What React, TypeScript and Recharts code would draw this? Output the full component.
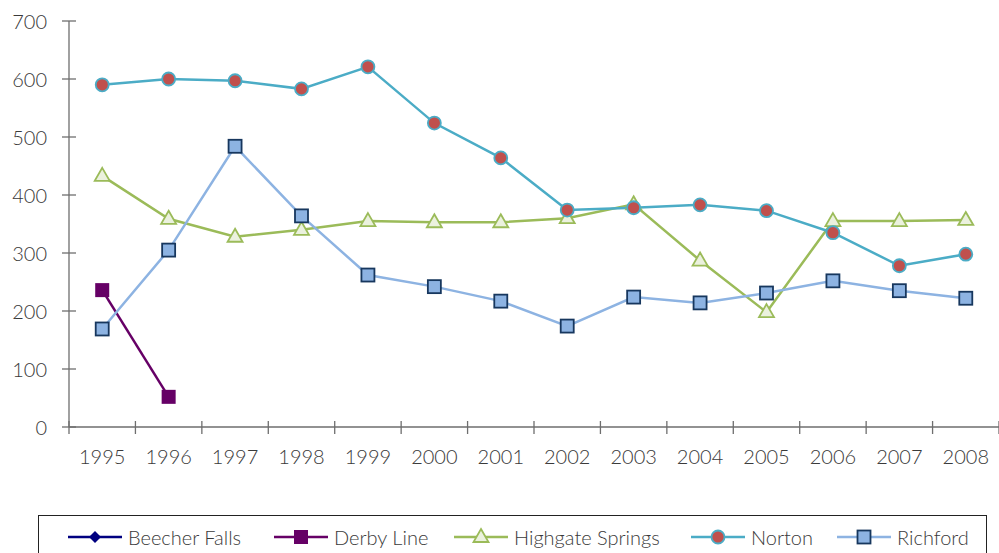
import { Line, LineChart, XAxis, YAxis } from 'recharts';

const years = ['1995', '1996', '1997', '1998', '1999', '2000', '2001', '2002', '2003', '2004', '2005', '2006', '2007', '2008'];
const beecherFalls: (number | null)[] = [null, null, null, null, null, null, null, null, null, null, null, null, null, null];
const derbyLine: (number | null)[] = [236, 52, null, null, null, null, null, null, null, null, null, null, null, null];
const highgateSprings = [433, 359, 328, 340, 355, 353, 353, 360, 384, 287, 198, 355, 355, 357];
const norton = [590, 600, 597, 583, 621, 524, 464, 374, 378, 383, 373, 335, 278, 298];
const richford = [169, 305, 484, 364, 262, 242, 217, 174, 224, 214, 231, 252, 235, 222];
const yTicks = [0, 100, 200, 300, 400, 500, 600, 700];

const data = years.map((year, i) => ({
  year,
  beecherFalls: beecherFalls[i],
  derbyLine: derbyLine[i],
  highgateSprings: highgateSprings[i],
  norton: norton[i],
  richford: richford[i],
}));

const FONT = 'Lato, "DejaVu Sans Condensed", sans-serif';
const TEXT = '#3a3a3a';
const AXIS = '#6e6e6e';
const BAND = 930 / 14;

type Marker = 'diamond' | 'square' | 'triangle' | 'circle' | 'box';

const series = [
  { key: 'beecherFalls', name: 'Beecher Falls', color: '#000080', marker: 'diamond' as Marker, left: 29 },
  { key: 'derbyLine', name: 'Derby Line', color: '#660066', marker: 'square' as Marker, left: 235 },
  { key: 'highgateSprings', name: 'Highgate Springs', color: '#9bbb59', marker: 'triangle' as Marker, left: 415 },
  { key: 'norton', name: 'Norton', color: '#4bacc6', marker: 'circle' as Marker, left: 652 },
  { key: 'richford', name: 'Richford', color: '#8db3e2', marker: 'box' as Marker, left: 798 },
];

const drawMarker = (marker: Marker, cx: number, cy: number) => {
  switch (marker) {
    case 'diamond':
      return <polygon points={`${cx},${cy - 6} ${cx + 6},${cy} ${cx},${cy + 6} ${cx - 6},${cy}`} fill="#000080" />;
    case 'square':
      return <rect x={cx - 7} y={cy - 7} width={14} height={14} fill="#660066" />;
    case 'triangle':
      return (
        <polygon
          points={`${cx},${cy - 8} ${cx + 7.5},${cy + 5} ${cx - 7.5},${cy + 5}`}
          fill="#ebf1de"
          stroke="#9bbb59"
          strokeWidth={1.8}
        />
      );
    case 'circle':
      return <circle cx={cx} cy={cy} r={6.5} fill="#c0504d" stroke="#4bacc6" strokeWidth={1.8} />;
    default:
      return <rect x={cx - 6.5} y={cy - 6.5} width={13} height={13} fill="#8db3e2" stroke="#17375e" strokeWidth={1.8} />;
  }
};

const makeDot = (marker: Marker) => (props: any) => {
  const { cx, cy, index, value } = props;
  if (cx == null || cy == null || value == null) return <g key={`e-${index}`} />;
  return <g key={`d-${index}`}>{drawMarker(marker, cx, cy)}</g>;
};

const YTick = (props: any) => {
  const { x, y, payload } = props;
  return (
    <g>
      <line x1={x - 7} x2={x + 7} y1={y} y2={y} stroke={AXIS} strokeWidth={1.3} />
      <text
        x={x - 22}
        y={y}
        textAnchor="end"
        dominantBaseline="central"
        fill={TEXT}
        fontSize={20}
        fontWeight={300}
        fontFamily={FONT}
      >
        {payload.value}
      </text>
    </g>
  );
};

const XTick = (props: any) => {
  const { x, y, payload, index } = props;
  return (
    <g>
      <line x1={x - BAND / 2} x2={x - BAND / 2} y1={y - 6} y2={y + 7} stroke={AXIS} strokeWidth={1.3} />
      {index === years.length - 1 && (
        <line x1={x + BAND / 2} x2={x + BAND / 2} y1={y - 6} y2={y + 7} stroke={AXIS} strokeWidth={1.3} />
      )}
      <text
        x={x}
        y={y + 29}
        textAnchor="middle"
        dominantBaseline="central"
        fill={TEXT}
        fontSize={20}
        fontWeight={300}
        fontFamily={FONT}
      >
        {payload.value}
      </text>
    </g>
  );
};

const LegendBox = () => (
  <div
    style={{
      position: 'absolute',
      left: 38,
      top: 515,
      width: 949,
      height: 50,
      border: '1.5px solid #222',
      boxSizing: 'border-box',
      fontFamily: FONT,
      fontWeight: 300,
      fontSize: 20,
      color: TEXT,
    }}
  >
    {series.map((s) => (
      <div
        key={s.key}
        style={{ position: 'absolute', left: s.left, top: 9, display: 'flex', alignItems: 'center', whiteSpace: 'nowrap' }}
      >
        <svg width={54} height={20} style={{ marginRight: 6 }}>
          <line x1={0} x2={54} y1={10} y2={10} stroke={s.color} strokeWidth={2.5} />
          {drawMarker(s.marker, 27, 10)}
        </svg>
        <span>{s.name}</span>
      </div>
    ))}
  </div>
);

export default function App() {
  return (
    <div style={{ position: 'absolute', left: 0, top: 0, width: 999, height: 553, overflow: 'hidden', background: '#fff' }}>
      <LineChart width={999} height={553} data={data} margin={{ top: 21, right: 0, bottom: 86, left: 0 }}>
        <XAxis
          dataKey="year"
          padding={{ left: BAND / 2, right: BAND / 2 }}
          height={40}
          stroke={AXIS}
          strokeWidth={1.3}
          tickLine={false}
          tickSize={0}
          tickMargin={0}
          tick={<XTick />}
          interval={0}
        />
        <YAxis
          domain={[0, 700]}
          ticks={yTicks}
          width={69}
          stroke={AXIS}
          strokeWidth={1.3}
          tickLine={false}
          tickSize={0}
          tickMargin={0}
          tick={<YTick />}
          interval={0}
        />
        {series.map((s) => (
          <Line
            key={s.key}
            dataKey={s.key}
            name={s.name}
            stroke={s.color}
            strokeWidth={2.5}
            dot={makeDot(s.marker)}
            activeDot={false}
            isAnimationActive={false}
          />
        ))}
      </LineChart>
      <LegendBox />
    </div>
  );
}
